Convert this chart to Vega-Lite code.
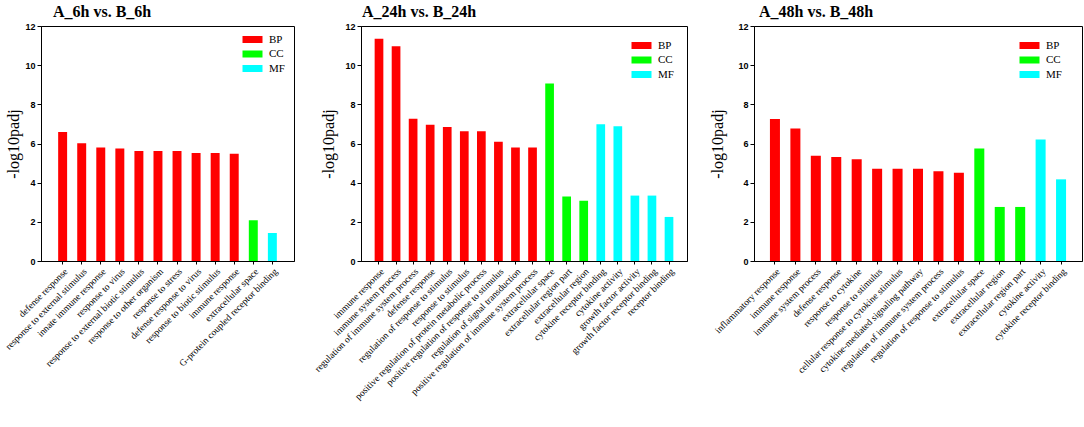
{
  "$schema": "https://vega.github.io/schema/vega-lite/v6.json",
  "background": "white",
  "padding": {"left": 2, "top": 3, "right": 2, "bottom": 5},
  "bounds": "flush",
  "spacing": 67,
  "datasets": {
    "h6": [
      {"term": "defense response", "cat": "BP", "v": 6.59},
      {"term": "response to external stimulus", "cat": "BP", "v": 6.01},
      {"term": "innate immune response", "cat": "BP", "v": 5.8},
      {"term": "response to virus", "cat": "BP", "v": 5.74},
      {"term": "response to external biotic stimulus", "cat": "BP", "v": 5.62},
      {"term": "response to other organism", "cat": "BP", "v": 5.62},
      {"term": "response to stress", "cat": "BP", "v": 5.62},
      {"term": "defense response to virus", "cat": "BP", "v": 5.51},
      {"term": "response to biotic stimulus", "cat": "BP", "v": 5.51},
      {"term": "immune response", "cat": "BP", "v": 5.48},
      {"term": "extracellular space", "cat": "CC", "v": 2.08},
      {"term": "G-protein coupled receptor binding", "cat": "MF", "v": 1.43}
    ],
    "h24": [
      {"term": "immune response", "cat": "BP", "v": 11.35},
      {"term": "immune system process", "cat": "BP", "v": 10.96},
      {"term": "regulation of immune system process", "cat": "BP", "v": 7.27},
      {"term": "defense response", "cat": "BP", "v": 6.96},
      {"term": "regulation of response to stimulus", "cat": "BP", "v": 6.84},
      {"term": "response to stimulus", "cat": "BP", "v": 6.62},
      {"term": "positive regulation of protein metabolic process", "cat": "BP", "v": 6.62},
      {"term": "positive regulation of response to stimulus", "cat": "BP", "v": 6.09},
      {"term": "regulation of signal transduction", "cat": "BP", "v": 5.79},
      {"term": "positive regulation of immune system process", "cat": "BP", "v": 5.79},
      {"term": "extracellular space", "cat": "CC", "v": 9.06},
      {"term": "extracellular region part", "cat": "CC", "v": 3.3},
      {"term": "extracellular region", "cat": "CC", "v": 3.08},
      {"term": "cytokine receptor binding", "cat": "MF", "v": 6.98},
      {"term": "cytokine activity", "cat": "MF", "v": 6.88},
      {"term": "growth factor activity", "cat": "MF", "v": 3.34},
      {"term": "growth factor receptor binding", "cat": "MF", "v": 3.34},
      {"term": "receptor binding", "cat": "MF", "v": 2.25}
    ],
    "h48": [
      {"term": "inflammatory response", "cat": "BP", "v": 7.25},
      {"term": "immune response", "cat": "BP", "v": 6.76},
      {"term": "immune system process", "cat": "BP", "v": 5.38},
      {"term": "defense response", "cat": "BP", "v": 5.31},
      {"term": "response to cytokine", "cat": "BP", "v": 5.19},
      {"term": "response to stimulus", "cat": "BP", "v": 4.71},
      {"term": "cellular response to cytokine stimulus", "cat": "BP", "v": 4.71},
      {"term": "cytokine-mediated signaling pathway", "cat": "BP", "v": 4.71},
      {"term": "regulation of immune system process", "cat": "BP", "v": 4.58},
      {"term": "regulation of response to stimulus", "cat": "BP", "v": 4.51},
      {"term": "extracellular space", "cat": "CC", "v": 5.74},
      {"term": "extracellular region", "cat": "CC", "v": 2.76},
      {"term": "extracellular region part", "cat": "CC", "v": 2.76},
      {"term": "cytokine activity", "cat": "MF", "v": 6.21},
      {"term": "cytokine receptor binding", "cat": "MF", "v": 4.17}
    ]
  },
  "hconcat": [
    {
      "data": {"name": "h6"},
      "width": 253,
      "height": 235,
      "title": {"text": "A_6h vs. B_6h", "dx": 12},
      "mark": {"type": "bar"},
      "encoding": {
        "x": {"field": "term", "type": "nominal", "sort": null, "title": null,
              "scale": {"paddingInner": 0.53, "paddingOuter": 0.9}},
        "y": {"field": "v", "type": "quantitative", "title": "-log10padj",
              "scale": {"domain": [0, 12], "nice": false},
              "axis": {"titlePadding": 3}},
        "color": {"field": "cat", "type": "nominal",
                  "legend": {"orient": "none", "legendX": 206, "legendY": 8}}
      }
    },
    {
      "data": {"name": "h24"},
      "width": 326,
      "height": 235,
      "title": {"text": "A_24h vs. B_24h", "dx": 1},
      "mark": {"type": "bar"},
      "encoding": {
        "x": {"field": "term", "type": "nominal", "sort": null, "title": null,
              "scale": {"paddingInner": 0.49, "paddingOuter": 0.8}},
        "y": {"field": "v", "type": "quantitative", "title": "-log10padj",
              "scale": {"domain": [0, 12], "nice": false},
              "axis": {"titlePadding": 8}},
        "color": {"field": "cat", "type": "nominal",
                  "legend": {"orient": "none", "legendX": 275, "legendY": 14}}
      }
    },
    {
      "data": {"name": "h48"},
      "width": 328,
      "height": 235,
      "title": {"text": "A_48h vs. B_48h", "dx": 5},
      "mark": {"type": "bar"},
      "encoding": {
        "x": {"field": "term", "type": "nominal", "sort": null, "title": null,
              "scale": {"paddingInner": 0.51, "paddingOuter": 0.78}},
        "y": {"field": "v", "type": "quantitative", "title": "-log10padj",
              "scale": {"domain": [0, 12], "nice": false},
              "axis": {"titlePadding": 12}},
        "color": {"field": "cat", "type": "nominal",
                  "legend": {"orient": "none", "legendX": 270, "legendY": 14}}
      }
    }
  ],
  "resolve": {"legend": {"color": "independent"}},
  "config": {
    "view": {"stroke": "black", "strokeWidth": 1},
    "title": {"anchor": "start", "frame": "group", "font": "Liberation Serif", "fontSize": 16, "fontWeight": "bold", "color": "black", "offset": 2},
    "range": {"category": ["#ff0000", "#00ff00", "#00ffff"]},
    "axis": {"grid": false, "domainColor": "black", "tickColor": "black", "labelColor": "black", "titleColor": "black"},
    "axisX": {"labelAngle": -45, "labelFont": "Liberation Serif", "labelFontSize": 9.5, "labelLimit": 0, "tickSize": 3, "labelPadding": 2},
    "axisY": {"values": [0, 2, 4, 6, 8, 10, 12], "labelFont": "Liberation Sans", "labelFontSize": 9, "labelFontWeight": "bold", "tickSize": 4, "labelPadding": 2, "titleFont": "Liberation Serif", "titleFontSize": 16, "titleFontWeight": "normal"},
    "legend": {"title": null, "padding": 0, "symbolType": "M-2,-0.7L2,-0.7L2,0.7L-2,0.7Z", "symbolSize": 100, "symbolStrokeWidth": 0, "symbolOpacity": 1, "labelFont": "Liberation Serif", "labelFontSize": 11, "labelColor": "black", "labelOffset": 11, "rowPadding": 2.5}
  }
}
